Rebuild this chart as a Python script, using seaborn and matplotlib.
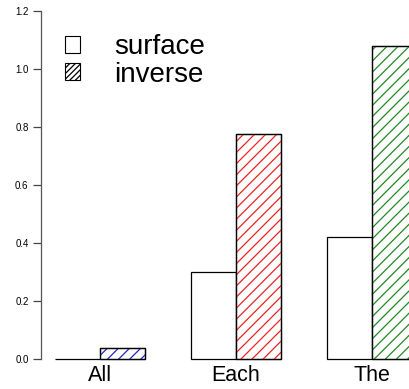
import matplotlib
matplotlib.use("Agg")
import matplotlib.pyplot as plt
import seaborn as sns
import pandas as pd
from matplotlib.patches import Patch, Rectangle

categories = ["All", "Each", "The"]
surface = [0.0, 0.30, 0.42]
inverse = [0.038, 0.775, 1.08]
inverse_colors = ["#2222cc", "#ee2222", "#228822"]
y_ticks = [0.0, 0.2, 0.4, 0.6, 0.8, 1.0, 1.2]

df = pd.DataFrame({
    "category": categories * 2,
    "value": surface + inverse,
    "kind": ["surface"] * 3 + ["inverse"] * 3,
})

sns.set_style("white")
plt.rcParams["font.family"] = ["Liberation Sans", "DejaVu Sans"]
plt.rcParams["hatch.linewidth"] = 0.9
plt.rcParams["text.color"] = "black"
plt.rcParams["xtick.color"] = "black"
plt.rcParams["ytick.color"] = "black"

fig = plt.figure(figsize=(4.10, 3.89), dpi=100)
ax = fig.add_axes([41 / 410, 30 / 389, 1 - 41 / 410, 348 / 389])

sns.barplot(data=df, x="category", y="value", hue="kind", order=categories,
            hue_order=["surface", "inverse"], width=2 / 3, gap=0,
            palette=["white", "white"], edgecolor="black",
            linewidth=0.9, legend=False, ax=ax)

# bars come out ordered by hue, then category
bars = list(ax.patches)
for p in bars:
    p.set_clip_on(False)
for p, col in zip(bars[3:], inverse_colors):
    x, y = p.get_xy()
    w, h = p.get_width(), p.get_height()
    ax.add_patch(Rectangle((x, y), w, h, fill=False, hatch="///",
                           edgecolor=col, linewidth=0, clip_on=False, zorder=3))
    ax.add_patch(Rectangle((x, y), w, h, fill=False, edgecolor="black",
                           linewidth=0.9, clip_on=False, zorder=4))

ax.set_xlim(-0.434, 2.28)
ax.set_ylim(0, 1.2)
ax.set_yticks(y_ticks)
ax.set_yticklabels([f"{t:.1f}" for t in y_ticks], fontsize=7)
ax.tick_params(axis="y", left=True, length=6, width=0.9, color="#444444", pad=3)
ax.tick_params(axis="x", bottom=False, labelsize=15.5, pad=1)
ax.set_xlabel("")
ax.set_ylabel("")
sns.despine(ax=ax, bottom=True)
ax.spines["left"].set_color("#555555")
ax.spines["left"].set_linewidth(0.9)

handles = [Patch(facecolor="white", edgecolor="black", linewidth=0.8),
           Patch(facecolor="white", edgecolor="black", linewidth=0.8, hatch="//////")]
fig.legend(handles, ["surface", "inverse"], loc="upper left",
           bbox_to_anchor=(54 / 410, 1 - 23 / 389), frameon=False, fontsize=20,
           handlelength=0.55, handleheight=0.55, handletextpad=1.2,
           labelspacing=0.05, borderaxespad=0)

fig.savefig("out.png", dpi=100)
